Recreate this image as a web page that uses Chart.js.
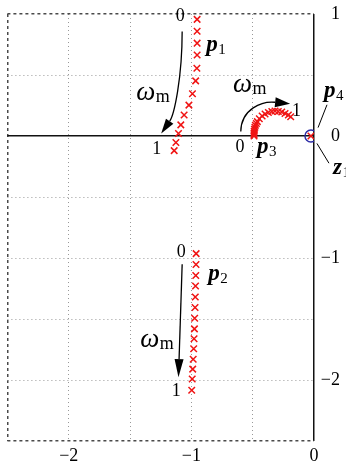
<!DOCTYPE html>
<html>
<head>
<meta charset="utf-8">
<script src="https://cdn.jsdelivr.net/npm/chart.js@4/dist/chart.umd.min.js"></script>
<style>
  html, body { margin: 0; padding: 0; background: #fff; }
  canvas { display: block; }
</style>
</head>
<body>
<canvas id="locus" width="346" height="471"></canvas>
<script>
// Root locus of the closed-loop poles while ωm sweeps from 0 to 1.
const p1Re = [-0.953, -0.953, -0.953, -0.953, -0.955, -0.965, -0.991, -1.020, -1.059, -1.086, -1.105, -1.126, -1.140];
const p1Im = [0.956, 0.859, 0.761, 0.664, 0.556, 0.452, 0.347, 0.253, 0.172, 0.091, 0.020, -0.053, -0.120];

const p2Re = [-0.961, -0.962, -0.964, -0.966, -0.968, -0.970, -0.973, -0.975, -0.978, -0.981, -0.985, -0.989, -0.993, -0.997];
const p2Im = [-0.964, -1.054, -1.143, -1.230, -1.319, -1.406, -1.494, -1.581, -1.662, -1.744, -1.830, -1.911, -1.992, -2.084];

const p3Re = [-0.489, -0.489, -0.489, -0.488, -0.486, -0.482, -0.478, -0.470, -0.462, -0.446, -0.423, -0.399, -0.372, -0.344, -0.318, -0.291, -0.263, -0.236, -0.209, -0.190];
const p3Im = [0.000, 0.010, 0.023, 0.038, 0.055, 0.071, 0.088, 0.103, 0.118, 0.142, 0.164, 0.180, 0.193, 0.201, 0.205, 0.201, 0.197, 0.185, 0.172, 0.158];

const p4Re = [-0.025];
const p4Im = [0];
const z1Re = [-0.025];
const z1Im = [0];

const xTickValues = [-2, -1, 0];
const yTickValues = [-2, -1, 0, 1];
const tickText = v => (v < 0 ? '\u2212' + Math.abs(v) : String(v));

const toPoints = (re, im) => re.map((r, i) => ({ x: r, y: im[i] }));

const RED = '#f01414';
const BLUE = '#2b2ba6';
const SERIF = '"Liberation Serif", "DejaVu Serif", serif';

// Frame lines, the real axis and the imaginary axis share the grid machinery.
const isEdgeX = v => Math.abs(v + 2.5) < 1e-9;
const isEdgeY = v => Math.abs(v - 1) < 1e-9 || Math.abs(v + 2.5) < 1e-9;
const isZero = v => Math.abs(v) < 1e-9;

function gridColor(edge) {
  return c => {
    const v = c.tick ? c.tick.value : NaN;
    if (isZero(v)) return '#111';
    if (edge(v)) return '#4a4a4a';
    return '#999';
  };
}
function gridWidth(edge) {
  return c => {
    const v = c.tick ? c.tick.value : NaN;
    if (isZero(v)) return 1.5;
    if (edge(v)) return 1.5;
    return 1;
  };
}
function gridDash(edge) {
  return c => {
    const v = c.tick ? c.tick.value : NaN;
    if (isZero(v)) return [];
    if (edge(v)) return [3, 3];
    return [1, 3];
  };
}

// Text, arrows and leader lines placed in the complex plane.
const annotate = {
  id: 'annotate',
  afterDatasetsDraw(chart) {
    const { ctx, scales: { x, y } } = chart;
    const P = (re, im) => [x.getPixelForValue(re), y.getPixelForValue(im)];

    const num = (t, re, im) => {
      const [px, py] = P(re, im);
      ctx.font = '18px ' + SERIF;
      ctx.textAlign = 'center';
      ctx.textBaseline = 'middle';
      ctx.fillText(t, px, py);
    };
    const sub = (main, s, re, im, mainFont, subFont, dy) => {
      const [px, py] = P(re, im);
      ctx.textAlign = 'left';
      ctx.textBaseline = 'alphabetic';
      ctx.font = mainFont;
      ctx.fillText(main, px, py);
      const w = ctx.measureText(main).width;
      ctx.font = subFont;
      ctx.fillText(s, px + w + 0.5, py + dy);
    };
    const pole = (s, re, im) => sub('p', s, re, im, 'italic bold 23px ' + SERIF, '15px ' + SERIF, 3);
    const omega = (re, im) => sub('\u03c9', 'm', re, im, 'italic 27px ' + SERIF, '18px ' + SERIF, 2);

    const arrow = (pts, head, half) => {
      const q = pts.map(p => P(p[0], p[1]));
      const tip = q[q.length - 1];
      const from = q[q.length - 2];
      let dx = tip[0] - from[0], dy = tip[1] - from[1];
      const len = Math.hypot(dx, dy) || 1;
      dx /= len; dy /= len;
      const bx = tip[0] - dx * head, by = tip[1] - dy * head;
      ctx.lineWidth = 1.3;
      ctx.beginPath();
      ctx.moveTo(q[0][0], q[0][1]);
      if (q.length === 4) {
        ctx.bezierCurveTo(q[1][0], q[1][1], q[2][0], q[2][1], bx, by);
      } else {
        ctx.lineTo(bx, by);
      }
      ctx.stroke();
      ctx.beginPath();
      ctx.moveTo(tip[0], tip[1]);
      ctx.lineTo(bx - dy * half, by + dx * half);
      ctx.lineTo(bx + dy * half, by - dx * half);
      ctx.closePath();
      ctx.fill();
    };
    const leader = (a, b) => {
      const [x1, y1] = P(a[0], a[1]);
      const [x2, y2] = P(b[0], b[1]);
      ctx.lineWidth = 1;
      ctx.beginPath();
      ctx.moveTo(x1, y1);
      ctx.lineTo(x2, y2);
      ctx.stroke();
    };

    ctx.save();
    ctx.fillStyle = '#000';
    ctx.strokeStyle = '#000';

    // p1 branch
    num('0', -1.091, 0.982);
    num('1', -1.283, -0.110);
    pole('1', -0.879, 0.694);
    omega(-1.450, 0.296);
    arrow([[-1.075, 0.856], [-1.075, 0.475], [-1.140, 0.175], [-1.246, 0.020]], 15, 4.5);

    // p3 branch
    num('0', -0.603, -0.093);
    num('1', -0.143, 0.203);
    pole('3', -0.464, -0.142);
    omega(-0.660, 0.361);
    arrow([[-0.597, 0.037], [-0.594, 0.223], [-0.423, 0.288], [-0.195, 0.264]], 15, 5);

    // p4 and z1 near the origin
    pole('4', 0.081, 0.321);
    leader([0.033, 0.069], [0.106, 0.256]);
    sub('z', '1', 0.155, -0.313, 'italic bold 23px ' + SERIF, '15px ' + SERIF, 3);
    leader([0.024, -0.061], [0.122, -0.223]);

    // p2 branch
    num('0', -1.083, -0.954);
    num('1', -1.124, -2.094);
    pole('2', -0.863, -1.181);
    omega(-1.417, -1.733);
    arrow([[-1.075, -1.051], [-1.105, -1.977]], 18, 4.5);

    ctx.restore();
  }
};

const crossSet = (label, re, im) => ({
  label,
  data: toPoints(re, im),
  pointStyle: 'crossRot',
  pointRadius: 4.6,
  borderColor: RED,
  backgroundColor: RED,
  borderWidth: 1.5,
  showLine: false
});

new Chart(document.getElementById('locus'), {
  type: 'scatter',
  data: {
    datasets: [
      {
        label: 'z1',
        data: toPoints(z1Re, z1Im),
        pointStyle: 'circle',
        pointRadius: 6,
        borderColor: BLUE,
        backgroundColor: 'rgba(0,0,0,0)',
        borderWidth: 1.4
      },
      crossSet('p1', p1Re, p1Im),
      crossSet('p2', p2Re, p2Im),
      crossSet('p3', p3Re, p3Im),
      crossSet('p4', p4Re, p4Im)
    ]
  },
  options: {
    responsive: false,
    animation: false,
    events: [],
    layout: { padding: { left: 7, top: 10, right: 6, bottom: 0 } },
    plugins: { legend: { display: false }, tooltip: { enabled: false } },
    scales: {
      x: {
        type: 'linear',
        min: -2.5,
        max: 0,
        afterBuildTicks: s => {
          s.ticks = [-2.5, -2, -1.5, -1, -0.5, 0].map(v => ({ value: v }));
        },
        afterFit: s => { s.height = 30; },
        ticks: {
          autoSkip: false,
          maxRotation: 0,
          padding: 6,
          color: '#000',
          font: { family: SERIF, size: 18, lineHeight: 1 },
          callback: v => (xTickValues.includes(v) ? tickText(v) : '')
        },
        grid: {
          drawTicks: false,
          color: gridColor(isEdgeX),
          lineWidth: gridWidth(isEdgeX)
        },
        border: { display: false, dash: gridDash(isEdgeX) }
      },
      y: {
        type: 'linear',
        position: 'right',
        min: -2.5,
        max: 1,
        afterBuildTicks: s => {
          s.ticks = [-2.5, -2, -1.5, -1, -0.5, 0, 0.5, 1].map(v => ({ value: v }));
        },
        afterFit: s => { s.width = 26; },
        ticks: {
          autoSkip: false,
          padding: 5,
          crossAlign: 'far',
          color: '#000',
          font: { family: SERIF, size: 18, lineHeight: 1 },
          callback: v => (yTickValues.includes(v) ? tickText(v) : '')
        },
        grid: {
          drawTicks: false,
          color: gridColor(isEdgeY),
          lineWidth: gridWidth(isEdgeY)
        },
        border: { display: false, dash: gridDash(isEdgeY) }
      }
    }
  },
  plugins: [annotate]
});
</script>
</body>
</html>
